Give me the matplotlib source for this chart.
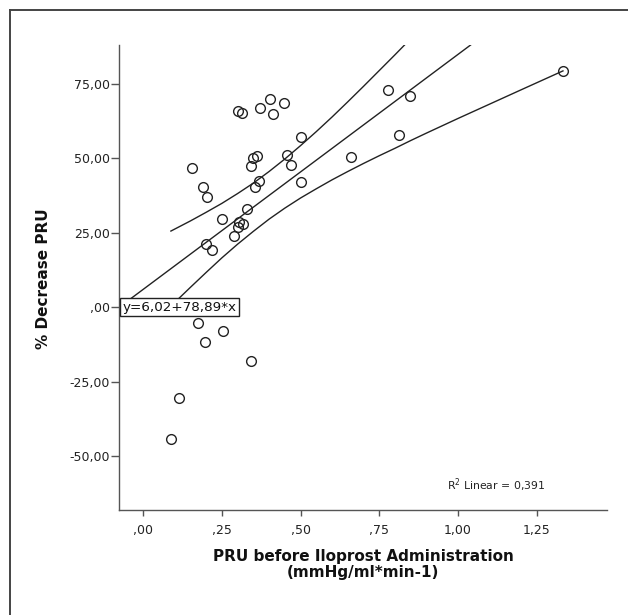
import matplotlib
matplotlib.use("Agg")
import matplotlib.pyplot as plt
from matplotlib.lines import Line2D

# scatter data: PRU before iloprost vs % decrease PRU
pru_before = [0.154, 0.191, 0.204, 0.302, 0.313, 0.372, 0.404, 0.412, 0.447, 0.500,
              0.350, 0.362, 0.344, 0.458, 0.471, 0.368, 0.355, 0.500, 0.660, 0.330,
              0.251, 0.306, 0.316, 0.302, 0.287, 0.199, 0.219, 0.779, 0.849, 0.814,
              1.334, 0.174, 0.252, 0.196, 0.343, 0.114, 0.088]
pct_decrease = [46.7, 40.3, 37.1, 65.8, 65.4, 66.8, 69.9, 65.0, 68.7, 57.1,
                50.2, 50.7, 47.5, 51.0, 47.7, 42.5, 40.4, 42.0, 50.6, 33.0,
                29.5, 28.6, 27.9, 27.0, 24.0, 21.2, 19.1, 72.9, 71.0, 58.0,
                79.4, -5.2, -7.9, -11.5, -18.2, -30.6, -44.3]

# linear fit
intercept = 6.02
slope = 78.89
r2 = "0,391"

# 95% confidence band
upper_x = [0.088, 0.15, 0.20, 0.25, 0.30, 0.35, 0.40, 0.45, 0.50, 0.55, 0.60, 0.65, 0.70, 0.75, 0.80, 0.85]
upper_y = [25.6, 29.0, 31.9, 34.9, 38.2, 41.7, 45.6, 49.8, 54.3, 59.0, 63.9, 69.0, 74.2, 79.5, 84.8, 90.2]
lower_x = [0.088, 0.15, 0.20, 0.25, 0.30, 0.35, 0.40, 0.45, 0.50, 0.55, 0.60, 0.65, 0.70, 0.75, 0.80,
           0.85, 0.90, 1.00, 1.10, 1.20, 1.334]
lower_y = [0.4, 6.7, 11.7, 16.6, 21.2, 25.5, 29.6, 33.3, 36.7, 39.8, 42.8, 45.6, 48.3, 50.9, 53.4,
           56.0, 58.5, 63.4, 68.2, 73.0, 79.4]

xticks = [0, 0.25, 0.5, 0.75, 1.0, 1.25]
xticklabels = [",00", ",25", ",50", ",75", "1,00", "1,25"]
yticks = [-50, -25, 0, 25, 50, 75]
yticklabels = ["-50,00", "-25,00", ",00", "25,00", "50,00", "75,00"]

W, H = 628, 615
fig = plt.figure(figsize=(W / 100, H / 100), dpi=100)
fig.patch.set_facecolor("white")

# outer frame (only left and top visible)
fig.add_artist(Line2D([10 / W, 10 / W], [0, 1 - 10 / H], color="#444444", lw=1.4))
fig.add_artist(Line2D([10 / W, 1], [1 - 10 / H, 1 - 10 / H], color="#444444", lw=1.4))

ax = fig.add_axes([119.3 / W, 1 - 510 / H, (606.7 - 119.3) / W, (510 - 45) / H])
ax.set_xlim(-0.076, 1.473)
ax.set_ylim(-68.1, 88.1)

for s in ["top", "right"]:
    ax.spines[s].set_visible(False)
for s in ["left", "bottom"]:
    ax.spines[s].set_color("#555555")
    ax.spines[s].set_linewidth(1.0)

ax.plot(upper_x, upper_y, color="#222222", lw=1.0, zorder=2)
ax.plot(lower_x, lower_y, color="#222222", lw=1.0, zorder=2)
ax.axline((0, intercept), slope=slope, color="#222222", lw=1.0, zorder=2)

ax.plot(pru_before, pct_decrease, linestyle="none", marker="o", markersize=7,
        markerfacecolor="none", markeredgecolor="#222222", markeredgewidth=1.0, zorder=3)

ax.set_xticks(xticks)
ax.set_xticklabels(xticklabels)
ax.set_yticks(yticks)
ax.set_yticklabels(yticklabels)
ax.tick_params(axis="x", length=4, width=1, color="#555555", pad=6, labelsize=9, labelcolor="#222222")
ax.tick_params(axis="y", length=6, width=1, color="#555555", pad=1, labelsize=9, labelcolor="#222222")

eq = "y=%s+%s*x" % (("%.2f" % intercept).replace(".", ","), ("%.2f" % slope).replace(".", ","))
ax.text(0.006, 0, eq, transform=ax.get_yaxis_transform(), ha="left", va="center",
        fontsize=9.7, color="#111111", zorder=5,
        bbox=dict(boxstyle="square,pad=0.2", facecolor="white", edgecolor="#222222", linewidth=1.0))

ax.text(0.774, 0.054, "R$^2$ Linear = " + r2, transform=ax.transAxes, ha="center", va="center",
        fontsize=7.8, color="#222222")

fig.text(363 / W, 1 - 564.6 / H, "PRU before Iloprost Administration\n(mmHg/ml*min-1)",
         ha="center", va="center", fontsize=11, fontweight="bold", linespacing=1.1, color="#111111")
fig.text(43.3 / W, 1 - 279 / H, "% Decrease PRU", ha="center", va="center", rotation=90,
         fontsize=11, fontweight="bold", color="#111111")

fig.savefig("out.png", dpi=100)
